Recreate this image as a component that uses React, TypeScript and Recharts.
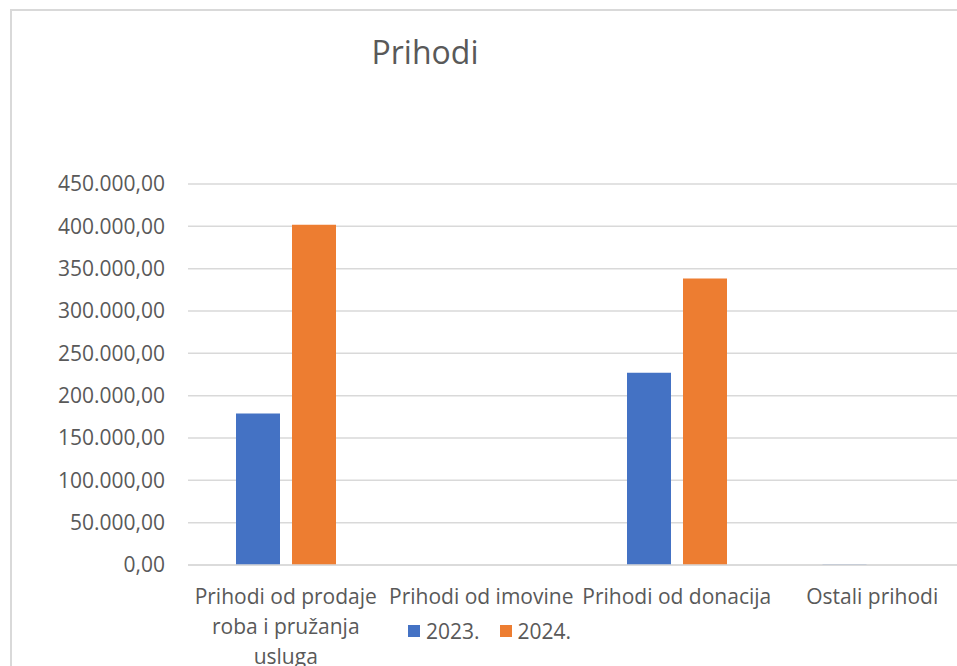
import React from 'react'
import { Bar, BarChart, CartesianGrid, XAxis, YAxis } from 'recharts'

// line breaks as Excel wraps them
const categories = [
  'Prihodi od prodaje\nroba i pružanja\nusluga',
  'Prihodi od imovine',
  'Prihodi od donacija',
  'Ostali prihodi',
]
const values2023 = [179000, 0, 227000, 600]
const values2024 = [402000, 0, 338500, 0]
const seriesNames = ['2023.', '2024.']
const seriesColors = ['#4472C4', '#ED7D31']
const yTicks = [0, 50000, 100000, 150000, 200000, 250000, 300000, 350000, 400000, 450000]

const data = categories.map((name, i) => ({ name, a: values2023[i], b: values2024[i] }))

const FONT = '"Open Sans", sans-serif'
const TEXT = '#595959'

function fmt(v: number) {
  const [int, dec] = v.toFixed(2).split('.')
  return int.replace(/\B(?=(\d{3})+(?!\d))/g, '.') + ',' + dec
}

function CategoryTick(props: any) {
  const { x, y, payload } = props
  const lines = String(payload.value).split('\n')
  return (
    <text x={x} y={y} textAnchor="middle" fill={TEXT} fontSize={21} fontFamily={FONT}>
      {lines.map((l, i) => (
        <tspan key={i} x={x} dy={i === 0 ? 15 : 30}>
          {l}
        </tspan>
      ))}
    </text>
  )
}

export default function App() {
  return (
    <div
      style={{
        position: 'absolute',
        left: 0,
        top: 0,
        width: 957,
        height: 666,
        overflow: 'hidden',
        background: '#fff',
        fontFamily: FONT,
      }}
    >
      <div
        style={{
          position: 'absolute',
          left: 10,
          top: 9,
          width: 960,
          height: 700,
          borderLeft: '2px solid #d9d9d9',
          borderTop: '2px solid #d9d9d9',
        }}
      />
      <div
        style={{
          position: 'absolute',
          left: 325,
          top: 30,
          width: 200,
          textAlign: 'center',
          fontSize: 32,
          color: TEXT,
          lineHeight: '44px',
        }}
      >
        Prihodi
      </div>
      <div style={{ position: 'absolute', left: 0, top: 0 }}>
        <BarChart
          width={1000}
          height={666}
          data={data}
          margin={{ top: 184, right: 30, bottom: 11, left: 10 }}
          barGap={12}
          barSize={44}
        >
          <CartesianGrid vertical={false} stroke="#d9d9d9" strokeWidth={1.5} />
          <XAxis
            dataKey="name"
            height={90}
            tickLine={false}
            tickSize={0}
            tickMargin={24}
            axisLine={{ stroke: '#d9d9d9', strokeWidth: 1.5 }}
            interval={0}
            tick={<CategoryTick />}
          />
          <YAxis
            width={178}
            domain={[0, 450000]}
            ticks={yTicks}
            tickFormatter={fmt}
            axisLine={false}
            tickLine={false}
            tickSize={0}
            tickMargin={23}
            tick={{ fill: TEXT, fontSize: 21, fontFamily: FONT }}
          />
          <Bar dataKey="a" name={seriesNames[0]} fill={seriesColors[0]} isAnimationActive={false} />
          <Bar dataKey="b" name={seriesNames[1]} fill={seriesColors[1]} isAnimationActive={false} />
        </BarChart>
      </div>
      <div
        style={{
          position: 'absolute',
          left: 408,
          top: 617,
          display: 'flex',
          alignItems: 'center',
          gap: 20,
          fontSize: 21,
          color: TEXT,
        }}
      >
        {seriesNames.map((s, i) => (
          <div key={s} style={{ display: 'flex', alignItems: 'center', gap: 6 }}>
            <span style={{ width: 12, height: 12, background: seriesColors[i], display: 'inline-block' }} />
            <span>{s}</span>
          </div>
        ))}
      </div>
    </div>
  )
}
